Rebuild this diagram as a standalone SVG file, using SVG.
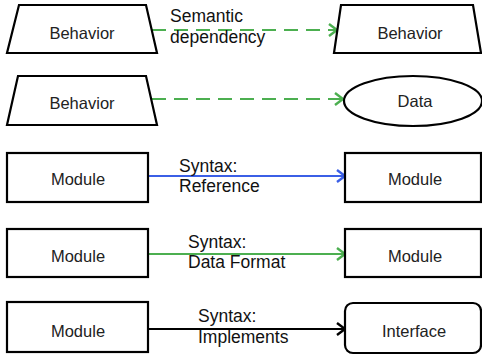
<svg xmlns="http://www.w3.org/2000/svg" width="482" height="360" viewBox="0 0 482 360">
  <style>
    .shape { fill: #ffffff; stroke: #000000; stroke-width: 2.2; }
    .node-text { font-family: "Liberation Sans", Arial, sans-serif; font-size: 16.5px; fill: #222222; text-anchor: middle; }
    .label { font-family: "Liberation Sans", Arial, sans-serif; font-size: 17.5px; fill: #111111; }
    .conn { fill: none; stroke-width: 2; }
    .green { stroke: #4caf50; }
    .blue { stroke: #3b5fe6; }
    .black { stroke: #000000; }
    .dash { stroke-dasharray: 14 8; }
  </style>
  <defs>
    <marker id="arrow-green" markerWidth="12" markerHeight="14" refX="10" refY="7" orient="auto" markerUnits="userSpaceOnUse">
      <path d="M2,1 L10,7 L2,13" fill="none" stroke="#4caf50" stroke-width="2.4"/>
    </marker>
    <marker id="arrow-blue" markerWidth="12" markerHeight="14" refX="10" refY="7" orient="auto" markerUnits="userSpaceOnUse">
      <path d="M2,1 L10,7 L2,13" fill="none" stroke="#3b5fe6" stroke-width="2.4"/>
    </marker>
    <marker id="arrow-black" markerWidth="12" markerHeight="14" refX="10" refY="7" orient="auto" markerUnits="userSpaceOnUse">
      <path d="M2,1 L10,7 L2,13" fill="none" stroke="#000000" stroke-width="2.4"/>
    </marker>
  </defs>
  <rect width="482" height="360" fill="#ffffff"/>

  <g id="connectors">
    <line class="conn green dash" x1="152" y1="30" x2="337" y2="30" marker-end="url(#arrow-green)"/>
    <line class="conn green dash" x1="152" y1="99" x2="343" y2="99" marker-end="url(#arrow-green)"/>
    <line class="conn blue" x1="148" y1="176" x2="345" y2="176" marker-end="url(#arrow-blue)"/>
    <line class="conn green" x1="148" y1="254" x2="345" y2="254" stroke-width="2.4" marker-end="url(#arrow-green)"/>
    <line class="conn black" x1="148" y1="329" x2="345" y2="329" marker-end="url(#arrow-black)"/>
    <text class="label" x="170" y="22">Semantic</text>
    <text class="label" x="170" y="43">dependency</text>
    <text class="label" x="179" y="172">Syntax:</text>
    <text class="label" x="179" y="192">Reference</text>
    <text class="label" x="188" y="248">Syntax:</text>
    <text class="label" x="188" y="268">Data Format</text>
    <text class="label" x="198" y="322">Syntax:</text>
    <text class="label" x="198" y="343">Implements</text>
  </g>

  <g id="behavior-1">
    <polygon class="shape" points="19,5 146,5 157,53 7,53"/>
    <text class="node-text" x="82" y="39">Behavior</text>
  </g>
  <g id="behavior-2">
    <polygon class="shape" points="341,5 473,5 481,53 334,53"/>
    <text class="node-text" x="410" y="39">Behavior</text>
  </g>
  <g id="behavior-3">
    <polygon class="shape" points="18,76 146,76 157,125 7,125"/>
    <text class="node-text" x="82" y="109">Behavior</text>
  </g>
  <g id="data">
    <ellipse class="shape" cx="413" cy="101" rx="69" ry="25"/>
    <text class="node-text" x="415" y="107">Data</text>
  </g>
  <g id="module-1">
    <rect class="shape" x="7" y="153" width="141" height="49"/>
    <text class="node-text" x="78" y="185">Module</text>
  </g>
  <g id="module-2">
    <rect class="shape" x="345" y="153" width="136" height="49"/>
    <text class="node-text" x="415" y="185">Module</text>
  </g>
  <g id="module-3">
    <rect class="shape" x="7" y="229" width="141" height="48"/>
    <text class="node-text" x="78" y="262">Module</text>
  </g>
  <g id="module-4">
    <rect class="shape" x="345" y="229" width="136" height="48"/>
    <text class="node-text" x="415" y="262">Module</text>
  </g>
  <g id="module-5">
    <rect class="shape" x="7" y="302" width="141" height="50"/>
    <text class="node-text" x="78" y="337">Module</text>
  </g>
  <g id="interface">
    <rect class="shape" x="345" y="303" width="136" height="50" rx="8" ry="8"/>
    <text class="node-text" x="414" y="337">Interface</text>
  </g>
</svg>
